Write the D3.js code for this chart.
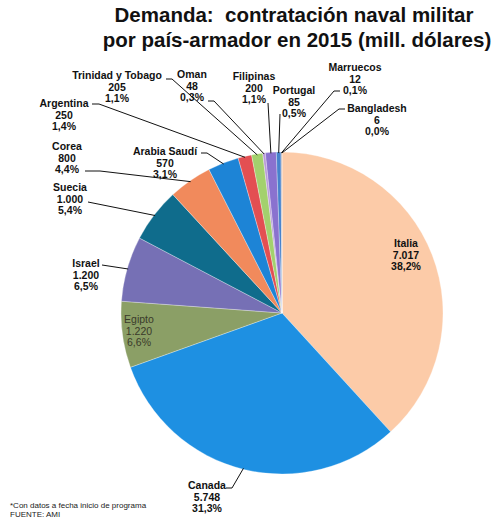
<!DOCTYPE html>
<html>
<head>
<meta charset="utf-8">
<script src="https://cdn.jsdelivr.net/npm/d3@7"></script>
<style>
  body { margin: 0; background: #fff; }
  text { font-family: "Liberation Sans", Arial, sans-serif; white-space: pre; }
</style>
</head>
<body>
<div class="chart"></div>
<script>
// data
var paises = ["Italia", "Canada", "Egipto", "Israel", "Suecia", "Corea", "Arabia Saudí",
  "Argentina", "Trinidad y Tobago", "Oman", "Filipinas", "Portugal", "Marruecos", "Bangladesh"];
var valores = [7017, 5748, 1220, 1200, 1000, 800, 570, 250, 205, 48, 200, 85, 12, 6];
var colores = ["#fccba8", "#1e90e2", "#8b9f66", "#7670b5", "#0f6c8c", "#f18a5c", "#1d84d6",
  "#e34f52", "#a3d16d", "#b99ad8", "#8a72cf", "#4682cc", "#2f6fa5", "#d08060"];
var titulo = ["Demanda:  contratación naval militar", "por país-armador en 2015 (mill. dólares)"];
var notas = ["*Con datos a fecha inicio de programa", "FUENTE: AMI"];

// label placement (hand-placed like the original), leader line start points
var etiquetas = {
  "Italia":            {x: 406, y: 247, inside: true},
  "Canada":            {x: 207, y: 489, line: [[226, 488], [232, 488]]},
  "Egipto":            {x: 139, y: 323, inside: true, light: true},
  "Israel":            {x: 86,  y: 267, line: [[102, 265]]},
  "Suecia":            {x: 70,  y: 191, line: [[88, 202]]},
  "Corea":             {x: 67,  y: 150, line: [[85, 171], [100, 171]]},
  "Arabia Saudí":      {x: 165, y: 155, line: [[201, 153], [207, 153]]},
  "Argentina":         {x: 64,  y: 107, line: [[92, 104], [99, 104]]},
  "Trinidad y Tobago": {x: 117, y: 79,  line: [[166, 79], [172, 79]]},
  "Oman":              {x: 192, y: 78,  line: [[208, 101], [214, 101]]},
  "Filipinas":         {x: 254, y: 80,  line: [[268, 103]]},
  "Portugal":          {x: 294, y: 94,  line: [[280, 114]]},
  "Marruecos":         {x: 355, y: 71,  line: [[340, 91], [334, 91]]},
  "Bangladesh":        {x: 377, y: 112, line: [[345, 109], [339, 109]]}
};

var width = 498, height = 524;
var cx = 282, cy = 313, radius = 161;
var lineH = 11.5;

var es = d3.formatLocale({decimal: ",", thousands: ".", grouping: [3], currency: ["", ""]});
var fmtVal = es.format(",d");
var fmtPct = es.format(".1f");

var total = d3.sum(valores);
var data = paises.map(function (p, i) {
  return {pais: p, value: valores[i], color: colores[i]};
});

var svg = d3.select(".chart").append("svg")
  .attr("width", width)
  .attr("height", height);

// title
svg.append("g").selectAll("text")
  .data(titulo)
  .enter().append("text")
  .attr("x", function (d, i) { return i ? 297 : 294; })
  .attr("y", function (d, i) { return 22 + i * 25; })
  .attr("text-anchor", "middle")
  .attr("font-size", "20.5px")
  .attr("font-weight", "bold")
  .attr("fill", "#111")
  .text(function (d) { return d; });

var pie = d3.pie().sort(null).value(function (d) { return d.value; });
var arc = d3.arc().innerRadius(0).outerRadius(radius);
var arcs = pie(data);

var g = svg.append("g").attr("transform", "translate(" + cx + "," + cy + ")");

g.selectAll("path.slice")
  .data(arcs)
  .enter().append("path")
  .attr("class", "slice")
  .attr("d", arc)
  .attr("fill", function (d) { return d.data.color; })
  .attr("stroke", "#fff")
  .attr("stroke-width", 0.5)
  .attr("stroke-opacity", 0.6);

// leader lines: from the label to the slice edge at mid angle
function edgePoint(d) {
  var a = (d.startAngle + d.endAngle) / 2;
  return [cx + Math.sin(a) * (radius - 1), cy - Math.cos(a) * (radius - 1)];
}

svg.append("g").selectAll("path")
  .data(arcs.filter(function (d) { return etiquetas[d.data.pais].line; }))
  .enter().append("path")
  .attr("d", function (d) {
    var pts = etiquetas[d.data.pais].line.concat([edgePoint(d)]);
    return d3.line()(pts);
  })
  .attr("fill", "none")
  .attr("stroke", "#111")
  .attr("stroke-width", 1);

// labels
var lab = svg.append("g").selectAll("text")
  .data(arcs)
  .enter().append("text")
  .attr("text-anchor", "middle")
  .attr("font-size", "10.5px")
  .attr("font-weight", function (d) { return etiquetas[d.data.pais].light ? "normal" : "bold"; })
  .attr("fill", function (d) { return etiquetas[d.data.pais].light ? "#3a3a2a" : "#111"; });

lab.each(function (d) {
  var pos = etiquetas[d.data.pais];
  var lines = [d.data.pais, fmtVal(d.data.value), fmtPct(d.data.value / total * 100) + "%"];
  d3.select(this).selectAll("tspan")
    .data(lines)
    .enter().append("tspan")
    .attr("x", pos.x)
    .attr("y", function (t, i) { return pos.y + i * lineH; })
    .text(function (t) { return t; });
});

// footnote
svg.append("g").selectAll("text")
  .data(notas)
  .enter().append("text")
  .attr("x", 10)
  .attr("y", function (d, i) { return 508 + i * 8.5; })
  .attr("font-size", "8px")
  .attr("fill", "#222")
  .text(function (d) { return d; });
</script>
</body>
</html>
